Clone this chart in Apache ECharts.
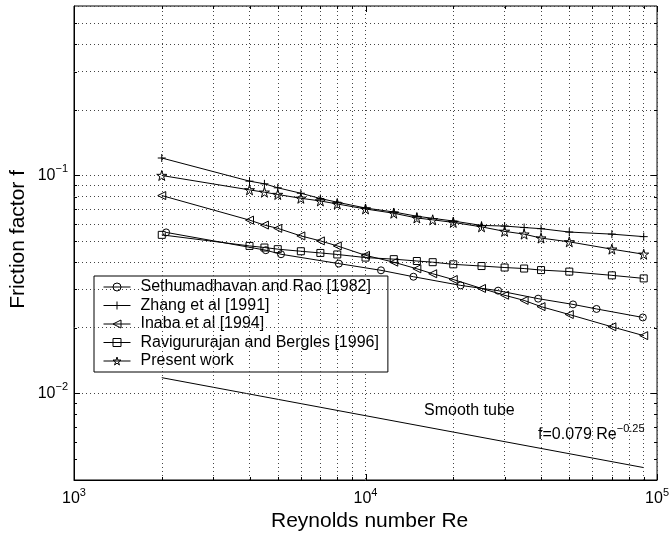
<!DOCTYPE html>
<html>
<head>
<meta charset="utf-8">
<script src="https://cdn.jsdelivr.net/npm/echarts@6/dist/echarts.min.js"></script>
<style>html,body{margin:0;padding:0;background:#fff;}#c{width:672px;height:537px;}</style>
</head>
<body>
<div id="c"></div>
<script>
// ---- data ----
const reSethu = [2070,4550,5130,8100,11300,14600,21200,28500,39100,51500,62000,89400];
const fSethu  = [0.0548,0.0454,0.0435,0.0394,0.0367,0.0343,0.0313,0.0296,0.0272,0.0256,0.0244,0.0223];

const reZhang = [2000,4000,4500,5000,6000,7000,8000,10000,12500,15000,20000,25000,30000,35000,40000,50000,70000,90000];
const fZhang  = [0.1203,0.0942,0.0916,0.0878,0.0829,0.0784,0.0754,0.0709,0.0680,0.0650,0.0618,0.0590,0.0586,0.0577,0.0570,0.0550,0.0538,0.0524];

const reInaba = [2000,4000,4500,5000,6000,7000,8000,10000,12500,15000,17000,20000,25000,30000,35000,40000,50000,70000,90000];
const fInaba  = [0.0809,0.0624,0.0592,0.0572,0.0528,0.0501,0.0475,0.0430,0.0400,0.0373,0.0354,0.0333,0.0303,0.0282,0.0267,0.0250,0.0230,0.0202,0.0184];

const reRavi = [2000,4000,4500,5000,6000,7000,8000,10000,12500,15000,17000,20000,25000,30000,35000,40000,50000,70000,90000];
const fRavi  = [0.0534,0.0475,0.0467,0.0459,0.0449,0.0441,0.0434,0.0420,0.0413,0.0405,0.0400,0.0391,0.0384,0.0378,0.0374,0.0368,0.0362,0.0348,0.0337];

const rePresent = [2000,4000,4500,5000,6000,7000,8000,10000,12500,15000,17000,20000,25000,30000,35000,40000,50000,70000,90000];
const fPresent  = [0.1000,0.0859,0.0838,0.0818,0.0786,0.0764,0.0740,0.0702,0.0671,0.0638,0.0626,0.0609,0.0581,0.0554,0.0538,0.0516,0.0496,0.0459,0.0435];

const reSmooth = [2000, 90000];
const fSmooth  = [0.0118, 0.00456];

const seriesNames = ['Sethumadhavan and Rao [1982]','Zhang et al [1991]','Inaba et al [1994]','Ravigururajan and Bergles [1996]','Present work'];

const xMin = 1000, xMax = 100000;
const yMin = 0.004, yMax = 0.6;
const xMajor = [1000, 10000, 100000];
const yMajor = [0.01, 0.1];
const xMinor = [2000,3000,4000,5000,6000,7000,8000,9000,20000,30000,40000,50000,60000,70000,80000,90000];
const yMinor = [0.005,0.006,0.007,0.008,0.009,0.02,0.03,0.04,0.05,0.06,0.07,0.08,0.09,0.2,0.3,0.4,0.5];

const xTitle = 'Reynolds number Re';
const yTitle = 'Friction factor f';
const smoothLabel = 'Smooth tube';
const formulaMain = 'f=0.079 Re';
const formulaExp = '\u22120.25';

// ---- helpers ----
const FONT = '"Liberation Sans", Arial, Helvetica, sans-serif';
function zip(a, b) { return a.map((v, i) => [v, b[i]]); }
function powLabel(v) {
  const e = Math.log10(v);
  const r = Math.round(e);
  if (Math.abs(e - r) > 1e-6) return '';
  const s = r < 0 ? '\u2212' + (-r) : String(r);
  return '{b|10}{s|' + s + '}';
}
const richPow = {
  b: { fontSize: 16, fontFamily: FONT, color: '#000', lineHeight: 24 },
  s: { fontSize: 11, fontFamily: FONT, color: '#000', verticalAlign: 'top', lineHeight: 11 }
};
const dotted = { color: '#444', width: 1, type: [1, 3] };

const STAR = 'path://M50,0 L61,35 L98,35 L68,57 L79,91 L50,70 L21,91 L32,57 L2,35 L39,35 Z';
const PLUS = 'path://M0,50 L100,50 M50,0 L50,100';
const HOLLOW = { color: 'rgba(255,255,255,0)', borderColor: '#000', borderWidth: 1 };

function dataSeries(name, re, f, symbol, size, rot) {
  return {
    name: name, type: 'line', data: zip(re, f),
    symbol: symbol, symbolSize: size, symbolRotate: rot || 0,
    showAllSymbol: true,
    lineStyle: { color: '#000', width: 1 },
    itemStyle: HOLLOW,
    emphasis: { disabled: true },
    z: 5
  };
}

function tickSeries(values, isX) {
  return {
    type: 'custom', silent: true, z: 6,
    data: values.map(v => isX ? [v, yMin] : [xMin, v]),
    renderItem: function (params, api) {
      const v = api.value(isX ? 0 : 1);
      const len = (isX ? xMajor : yMajor).indexOf(v) >= 0 ? 6 : 3;
      const st = { stroke: '#000', lineWidth: 1 };
      if (isX) {
        const b = api.coord([v, yMin]), t = api.coord([v, yMax]);
        const x = Math.round(b[0]) + 0.5;
        return { type: 'group', children: [
          { type: 'line', shape: { x1: x, y1: b[1], x2: x, y2: b[1] - len }, style: st },
          { type: 'line', shape: { x1: x, y1: t[1], x2: x, y2: t[1] + len }, style: st }
        ]};
      } else {
        const l = api.coord([xMin, v]), r = api.coord([xMax, v]);
        const y = Math.round(l[1]) + 0.5;
        return { type: 'group', children: [
          { type: 'line', shape: { x1: l[0], y1: y, x2: l[0] + len, y2: y }, style: st },
          { type: 'line', shape: { x1: r[0], y1: y, x2: r[0] - len, y2: y }, style: st }
        ]};
      }
    }
  };
}

const chart = echarts.init(document.getElementById('c'), null, { renderer: 'canvas' });
const option = {
  animation: false,
  backgroundColor: '#fff',
  grid: { left: 74, right: 11, top: 6, bottom: 57, show: true, borderColor: '#000', borderWidth: 1, backgroundColor: 'transparent' },
  xAxis: {
    type: 'log', logBase: 10, min: xMin, max: xMax,
    axisLine: { lineStyle: { color: '#000', width: 1 } },
    axisTick: { show: false },
    splitLine: { show: true, lineStyle: dotted },
    axisLabel: { formatter: powLabel, rich: richPow, margin: 7, showMinLabel: true, showMaxLabel: true }
  },
  yAxis: {
    type: 'log', logBase: 10, min: yMin, max: yMax,
    axisLine: { lineStyle: { color: '#000', width: 1 } },
    axisTick: { show: false },
    splitLine: { show: true, lineStyle: dotted },
    axisLabel: { formatter: powLabel, rich: richPow, margin: 6 }
  },
  legend: {
    data: seriesNames,
    orient: 'vertical',
    left: 94, top: 276,
    padding: [3, 9, 3, 9],
    itemGap: 2.5,
    itemWidth: 27, itemHeight: 10,
    backgroundColor: '#fff',
    borderColor: '#000', borderWidth: 1,
    selectedMode: false,
    itemStyle: HOLLOW,
    lineStyle: { color: '#000', width: 1 },
    textStyle: { fontSize: 16, fontFamily: FONT, color: '#000', lineHeight: 16, padding: [0, 0, 0, 5] }
  },
  graphic: [
    { type: 'text', left: 424, top: 403, silent: true,
      style: { text: smoothLabel, fontSize: 16, fontFamily: FONT, fill: '#000' } },
    { type: 'text', left: 538, top: 423, silent: true,
      style: { text: '{m|' + formulaMain + '}{e|' + formulaExp + '}', fill: '#000',
        rich: { m: { fontSize: 16, fontFamily: FONT, color: '#000', lineHeight: 24 },
                e: { fontSize: 11, fontFamily: FONT, color: '#000', verticalAlign: 'top', lineHeight: 11 } } } },
    { type: 'text', left: 271, top: 511, silent: true,
      style: { text: xTitle, fontSize: 21, fontFamily: FONT, fill: '#000' } },
    { type: 'text', left: 8, top: 170, rotation: Math.PI / 2, silent: true,
      style: { text: yTitle, fontSize: 21, fontFamily: FONT, fill: '#000' } }
  ],
  series: [
    {
      name: 'Smooth tube', type: 'line', data: zip(reSmooth, fSmooth),
      symbol: 'none', lineStyle: { color: '#000', width: 1 }, silent: true, z: 4,
      markLine: {
        silent: true, symbol: 'none', label: { show: false },
        lineStyle: dotted, animation: false,
        data: xMinor.map(v => ({ xAxis: v })).concat(yMinor.map(v => ({ yAxis: v })))
      }
    },
    dataSeries(seriesNames[0], reSethu, fSethu, 'circle', 7),
    dataSeries(seriesNames[1], reZhang, fZhang, PLUS, 8),
    dataSeries(seriesNames[2], reInaba, fInaba, 'triangle', 8, 90),
    dataSeries(seriesNames[3], reRavi, fRavi, 'rect', 7),
    dataSeries(seriesNames[4], rePresent, fPresent, STAR, 10),
    tickSeries(xMajor.concat(xMinor), true),
    tickSeries(yMajor.concat(yMinor), false)
  ]
};
chart.setOption(option);
</script>
</body>
</html>
